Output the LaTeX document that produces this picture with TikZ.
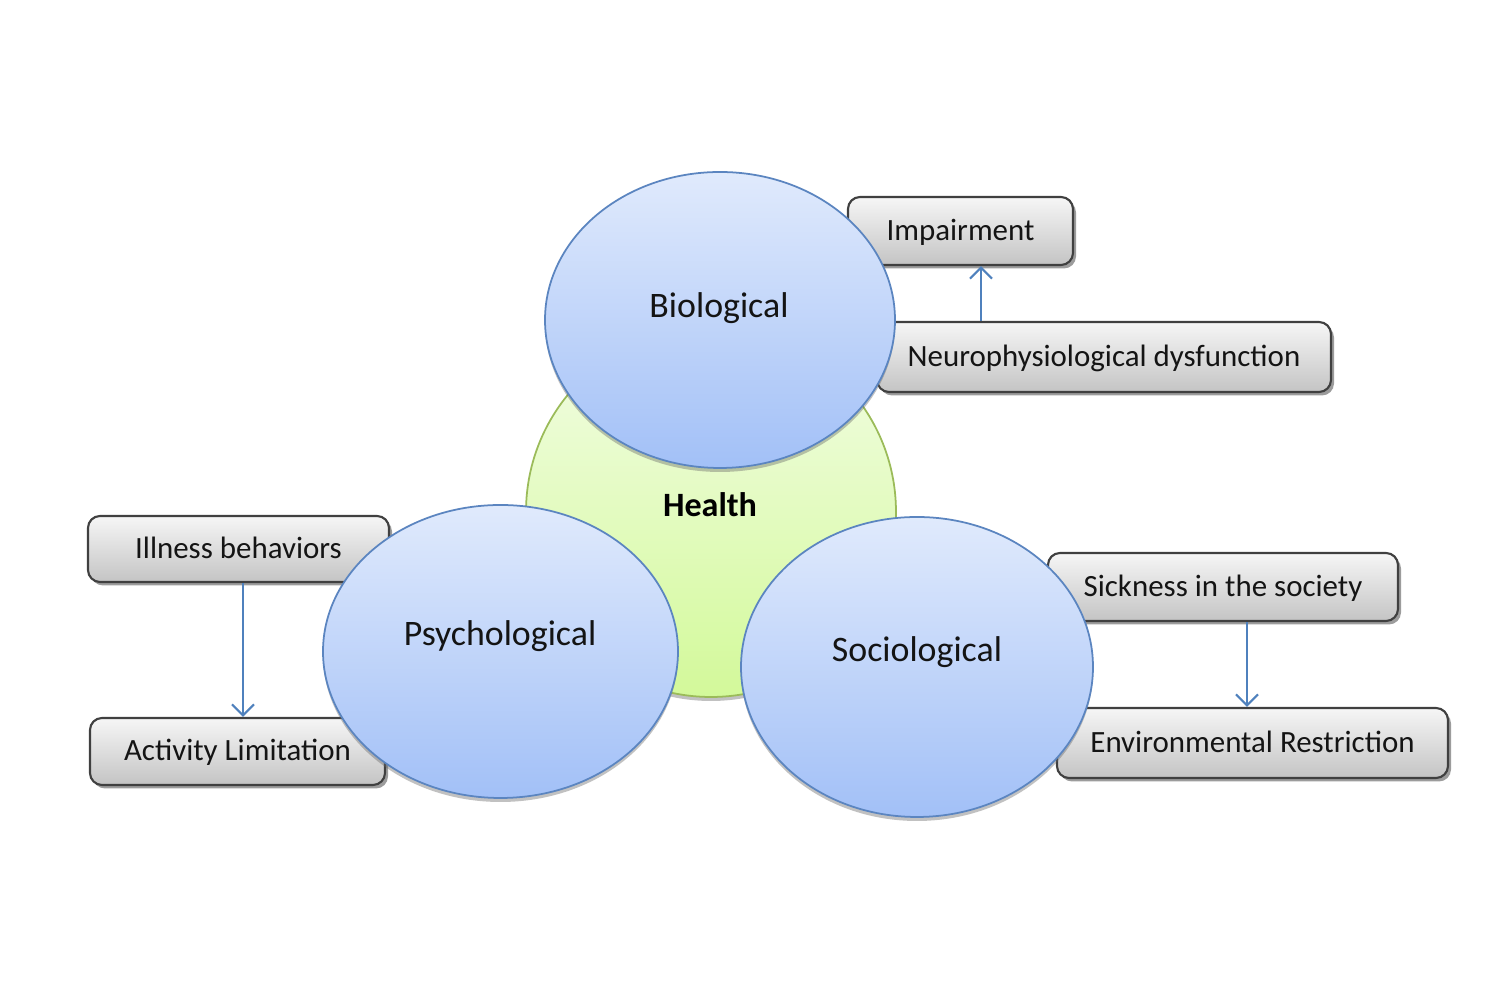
\documentclass[tikz,border=0pt]{standalone}
\usepackage{fontspec}
\setmainfont{Carlito}
\usetikzlibrary{shapes.geometric,shadows,arrows.meta}
\definecolor{ellTop}{HTML}{E0EAFC}
\definecolor{ellBot}{HTML}{A2C0F7}
\definecolor{ellDraw}{HTML}{5B85C0}
\definecolor{grnTop}{HTML}{F3FDE6}
\definecolor{grnBot}{HTML}{D3F99A}
\definecolor{grnDraw}{HTML}{9BBB59}
\definecolor{boxTop}{HTML}{F6F6F6}
\definecolor{boxBot}{HTML}{C4C4C4}
\definecolor{arr}{HTML}{4F81BD}
\definecolor{txt}{HTML}{141414}
\tikzset{
  bubble/.style={ellipse, draw=ellDraw, line width=0.5pt, top color=ellTop, bottom color=ellBot,
    minimum width=3.5cm, minimum height=2.96cm, inner sep=0pt,
    drop shadow={shadow xshift=0pt, shadow yshift=-0.04cm, fill=black!60, opacity=0.4}},
  hub/.style={circle, draw=grnDraw, line width=0.5pt, top color=grnTop, bottom color=grnBot,
    minimum size=3.7cm, inner sep=0pt,
    drop shadow={shadow xshift=0pt, shadow yshift=-0.04cm, fill=black!60, opacity=0.4}},
  tag/.style={rectangle, rounded corners=0.12cm, draw=black!75, line width=0.6pt,
    top color=boxTop, bottom color=boxBot, inner sep=0pt, text=txt,
    text height=7pt, text depth=1.6pt,
    font=\fontsize{8.8pt}{10pt}\selectfont,
    drop shadow={shadow xshift=0.03cm, shadow yshift=-0.035cm, fill=black!70, opacity=0.55}},
  biglabel/.style={text=txt, font=\fontsize{10.2pt}{12pt}\selectfont, inner sep=0pt},
  hublabel/.style={text=black, font=\fontsize{9.7pt}{11pt}\selectfont\bfseries, inner sep=0pt},
  conn/.style={draw=arr, line width=0.6pt, -{Straight Barb[length=1.1mm,width=2.2mm]}}
}
\begin{document}
\begin{tikzpicture}
\useasboundingbox (0,0) rectangle (15,-10);
\fill[white] (0,0) rectangle (15,-10);
% hub
\node[hub] (health) at (7.11,-5.12) {};
% boxes
\node[tag, minimum width=2.25cm, minimum height=0.68cm] (imp) at (9.605,-2.31) {Impairment};
\node[tag, minimum width=4.54cm, minimum height=0.70cm] (neuro) at (11.04,-3.57) {Neurophysiological dysfunction};
\node[tag, minimum width=3.01cm, minimum height=0.66cm] (ill) at (2.385,-5.49) {Illness behaviors};
\node[tag, minimum width=2.95cm, minimum height=0.67cm] (act) at (2.375,-7.515) {Activity Limitation};
\node[tag, minimum width=3.50cm, minimum height=0.68cm] (sick) at (12.23,-5.87) {Sickness in the society};
\node[tag, minimum width=3.91cm, minimum height=0.70cm] (env) at (12.525,-7.43) {Environmental Restriction};
% arrows
\coordinate (ax1) at (9.81,0);
\coordinate (ax2) at (2.43,0);
\coordinate (ax3) at (12.47,0);
\draw[conn] (neuro.north -| ax1) -- (imp.south -| ax1);
\draw[conn] (ill.south -| ax2) -- (act.north -| ax2);
\draw[conn] (sick.south -| ax3) -- (env.north -| ax3);
% bubbles
\node[bubble] (bio) at (7.20,-3.20) {};
\node[bubble, minimum width=3.55cm, minimum height=2.93cm] (psy) at (5.005,-6.515) {};
\node[bubble, minimum width=3.52cm, minimum height=3.0cm] (soc) at (9.17,-6.67) {};
% labels
\node[biglabel] (biol) at (7.19,-3.08) {Biological};
\node[biglabel] (psyl) at (5.00,-6.36) {Psychological};
\node[biglabel] (socl) at (9.17,-6.52) {Sociological};
\node[hublabel] (heal) at (7.10,-5.05) {Health};
\end{tikzpicture}
\end{document}
